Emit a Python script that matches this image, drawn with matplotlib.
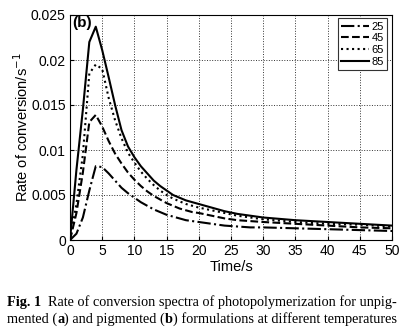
import numpy as np
import matplotlib
matplotlib.use("Agg")
import matplotlib.pyplot as plt

# time samples (s) and rate of conversion (1/s)
time = [0, 1, 2, 3, 4, 5, 6, 7, 8, 9, 10, 11, 12, 13, 14, 15, 16, 17, 18, 19, 20,
        22, 24, 26, 28, 30, 35, 40, 45, 50]
rate_25 = [0, 0.0007, 0.0025, 0.0055, 0.0082, 0.0081, 0.0074, 0.0066, 0.0058, 0.0052, 0.0047,
           0.0042, 0.0038, 0.0034, 0.0031, 0.0028, 0.0026, 0.0024, 0.0022, 0.0021, 0.0020,
           0.0018, 0.0016, 0.0015, 0.0014, 0.0014, 0.0013, 0.0012, 0.0011, 0.0010]
rate_45 = [0, 0.0030, 0.0075, 0.0131, 0.0139, 0.0126, 0.0110, 0.0096, 0.0085, 0.0075, 0.0067,
           0.0060, 0.0054, 0.0049, 0.0045, 0.0041, 0.0038, 0.0035, 0.0033, 0.0031, 0.0030,
           0.0027, 0.0024, 0.0022, 0.0021, 0.0020, 0.0018, 0.0016, 0.0014, 0.0013]
rate_65 = [0, 0.0040, 0.0095, 0.0185, 0.0195, 0.0190, 0.0158, 0.0133, 0.0113, 0.0097, 0.0086,
           0.0076, 0.0068, 0.0061, 0.0055, 0.0050, 0.0046, 0.0043, 0.0040, 0.0038, 0.0036,
           0.0033, 0.0030, 0.0027, 0.0025, 0.0023, 0.0020, 0.0018, 0.0017, 0.0015]
rate_85 = [0, 0.0078, 0.0145, 0.0220, 0.0237, 0.0211, 0.0181, 0.0150, 0.0122, 0.0104, 0.0092,
           0.0082, 0.0074, 0.0066, 0.0060, 0.0055, 0.0050, 0.0047, 0.0044, 0.0042, 0.0040,
           0.0036, 0.0032, 0.0029, 0.0027, 0.0025, 0.0022, 0.0020, 0.0018, 0.0016]
temps = ['25', '45', '65', '85']
styles = ['-.', '--', ':', '-']

xticks = np.arange(0, 51, 5)
yticks = [0, 0.005, 0.01, 0.015, 0.02, 0.025]
ytick_labels = ['0', '0.005', '0.01', '0.015', '0.02', '0.025']

plt.rcParams['font.family'] = ['Liberation Sans', 'DejaVu Sans']

W, H = 410, 329
fig = plt.figure(figsize=(W / 100, H / 100), dpi=100)
ax = fig.add_axes([70 / W, 1 - 240 / H, 322 / W, 225 / H])

for y, lab, ls in zip([rate_25, rate_45, rate_65, rate_85], temps, styles):
    ax.plot(time, y, ls, color='black', lw=1.5, label=lab)

ax.set_xlim(0, 50)
ax.set_ylim(0, 0.025)
ax.set_xticks(xticks)
ax.set_yticks(yticks)
ax.set_yticklabels(ytick_labels)
ax.tick_params(direction='in', labelsize=10, length=3, pad=3)
ax.grid(True, linestyle=':', color='#333333', lw=0.7)
ax.set_xlabel('Time/s', fontsize=10.5, labelpad=1)
ax.set_ylabel('Rate of conversion/s$^{-1}$', fontsize=10.5)
ax.yaxis.set_label_coords(-0.12, 0.5)
ax.text(0.006, 0.995, '(b)', transform=ax.transAxes, fontsize=11, fontweight='bold',
        va='top', ha='left')

leg = ax.legend(loc='upper right', fontsize=8, handlelength=2.5, handletextpad=0.2,
                borderpad=0.3, labelspacing=0.15, fancybox=False, framealpha=1,
                bbox_to_anchor=(0.985, 0.985), borderaxespad=0)
leg.get_frame().set_edgecolor('#333333')
leg.get_frame().set_linewidth(0.8)

# caption with bold pieces
renderer = fig.canvas.get_renderer()

def caption_line(pieces, x0, ybase):
    x = x0
    for txt, bold, gap in pieces:
        x += gap
        t = fig.text(x / W, 1 - ybase / H, txt, fontsize=10.3, family='Liberation Serif',
                     fontweight='bold' if bold else 'normal', va='baseline', ha='left')
        x = t.get_window_extent(renderer).x1

caption_line([('Fig. 1', True, 0),
              ('Rate of conversion spectra of photopolymerization for unpig-', False, 7)],
             7, 306)
caption_line([('mented (', False, 0), ('a', True, 0), (') and pigmented (', False, 0),
              ('b', True, 0), (') formulations at different temperatures', False, 0)],
             7, 323)

fig.savefig('out.png', dpi=100)
